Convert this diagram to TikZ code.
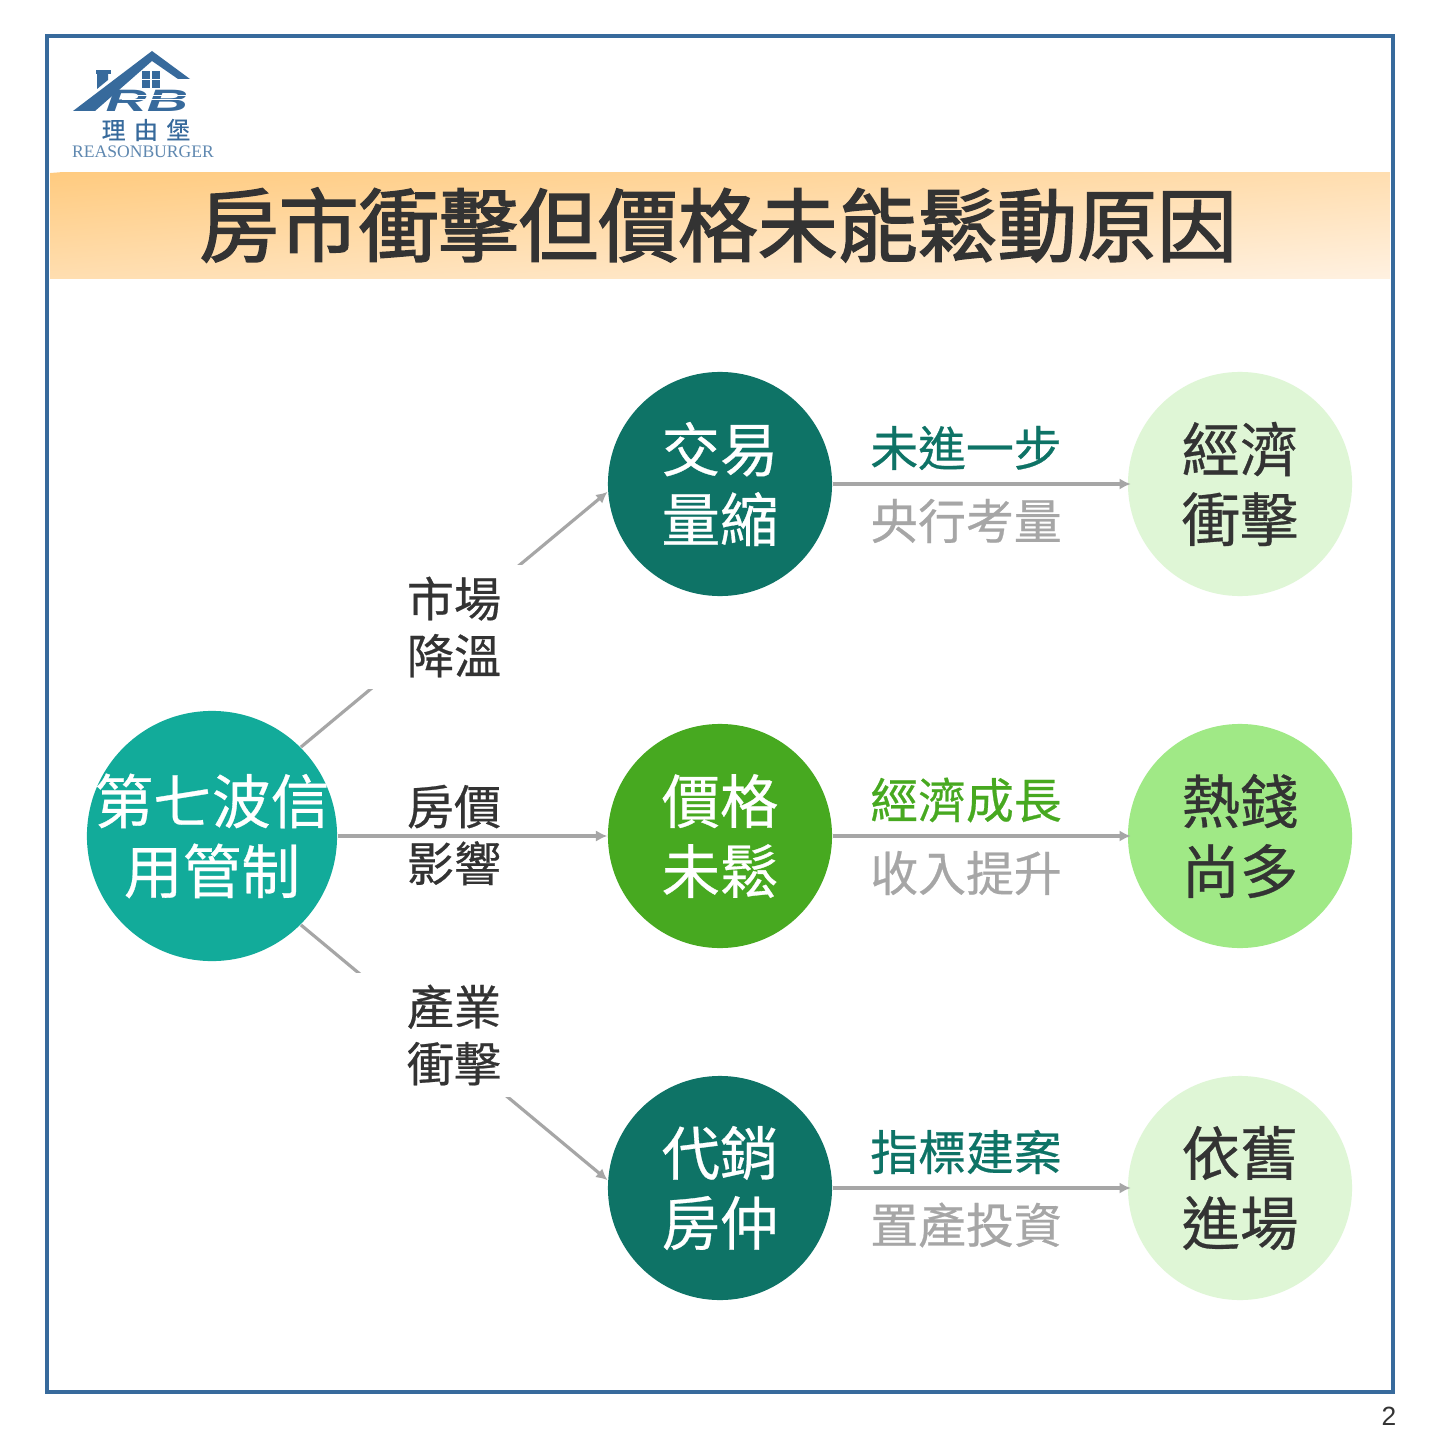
\documentclass[tikz,border=0pt]{standalone}
\usepackage{fontspec}
\usetikzlibrary{arrows.meta}
\setmainfont[FakeBold=0.5]{Noto Sans CJK TC}
\newfontfamily\titlefont[FakeBold=2]{Noto Sans CJK TC}
\newfontfamily\logofont{Liberation Serif}
\newfontfamily\rbfont{Liberation Sans}
\definecolor{framecol}{HTML}{376A9C}
\definecolor{darkteal}{HTML}{0E7366}
\definecolor{brightteal}{HTML}{12AB9A}
\definecolor{leafgreen}{HTML}{47A920}
\definecolor{palegreen}{HTML}{DFF6D6}
\definecolor{softgreen}{HTML}{A0E986}
\definecolor{linegray}{HTML}{A6A6A6}
\definecolor{inkcol}{HTML}{333333}
\definecolor{bandtop}{HTML}{FFCB80}
\definecolor{bandlow}{HTML}{FFF1E1}
\tikzset{
	ball/.style={circle,minimum size=2.24cm,inner sep=0pt,align=center,font=\fontsize{16.6}{19.9}\selectfont},
	flow/.style={-{Latex[length=3.2pt,width=3.2pt]},linegray,line width=0.9pt},
	flowend/.style={flow,shorten >=-1pt},
	midtext/.style={font=\fontsize{13.6}{16}\selectfont,inner sep=0pt},
	sidetext/.style={fill=white,minimum width=2cm,minimum height=1.24cm,inner sep=0pt,align=center,text=inkcol,font=\fontsize{13.4}{16.2}\selectfont},
}
\begin{document}
\begin{tikzpicture}[x=0.01cm,y=-0.01cm]
	\useasboundingbox (0,0) rectangle (1440,1440);
	\fill[white] (0,0) rectangle (1440,1440);

	\begin{scope}
		\clip (50,173) rectangle (1390,279);
		\begin{scope}[transform canvas={yslant=0.0791}]
			\shade[top color=bandtop,bottom color=bandlow] (50,177) rectangle (1390,389); %slanted colour bands
		\end{scope}
	\end{scope}
	\draw[framecol,line width=1.1pt] (47,36) rectangle (1393,1392);
	\node[font=\fontsize{22.7}{26}\selectfont\titlefont,text=inkcol,inner sep=0pt] (title) at (718,225) {房市衝擊但價格未能鬆動原因};
	\node[inner sep=0pt,font=\fontsize{7.5}{9}\selectfont,text=inkcol] (pagenum) at (1389,1416) {\rbfont 2};

	% logo
	\fill[framecol] (73,111) -- (152,51) -- (190,79) -- (178,79) -- (152,61) -- (95,111) -- cycle;
	\fill[framecol] (96,70) rectangle (111,74);
	\fill[framecol] (97,74) -- (108,74) -- (108,80) -- (97,89) -- cycle;
	\foreach \wx in {142,152} \foreach \wy in {71,80} \fill[framecol] (\wx,\wy) rectangle +(8,8);
	\node[inner sep=0pt,text=framecol,xscale=1.85,font=\fontsize{8.8}{10}\selectfont\bfseries\itshape] (logorb) at (147,101) {\rbfont RB};
	\draw[white,line width=0.25pt] (124,95) -- (186,95);
	\draw[white,line width=0.25pt] (122,99) -- (186,99);
	\node[inner sep=0pt,text=framecol,font=\fontsize{6.8}{9}\selectfont] (logocn) at (146,130) {理\hspace{2.4pt}由\hspace{2.4pt}堡};
	\node[inner sep=0pt,text=framecol!80,font=\fontsize{5}{6}\selectfont] (logoen) at (143,152) {\logofont REASONBURGER};

	% circles
	\node[ball,minimum size=2.5cm,fill=brightteal,label={[text=white,align=center,font=\fontsize{16.7}{19.9}\selectfont]center:第七波信\\用管制}] (source) at (212,836) {};
	\node[ball,fill=darkteal,text=white] (tradea) at (720,484) {交易\\量縮};
	\node[ball,fill=leafgreen,text=white] (priceb) at (720,836) {價格\\未鬆};
	\node[ball,fill=darkteal,text=white] (agentc) at (720,1188) {代銷\\房仲};
	\node[ball,fill=palegreen,text=inkcol] (endsa) at (1240,484) {經濟\\衝擊};
	\node[ball,fill=softgreen,text=inkcol] (endsb) at (1240,836) {熱錢\\尚多};
	\node[ball,fill=palegreen,text=inkcol] (endsc) at (1240,1188) {依舊\\進場};

	\draw[flow] (source.45) -- (tradea.184);
	\draw[flow] (source.east) -- (priceb.west);
	\draw[flow] (source.-45) -- (agentc.176);
	\draw[flowend] (tradea.east) -- (endsa.west);
	\draw[flowend] (priceb.east) -- (endsb.west);
	\draw[flowend] (agentc.east) -- (endsc.west);

	% labels on the lines
	\node[sidetext] (causea) at (454,627) {市場\\降溫};
	\node[text=inkcol,align=center,inner sep=0pt,font=\fontsize{13.4}{16.2}\selectfont] (causeb) at (454,835) {房價\\影響};
	\node[sidetext] (causec) at (454,1035) {產業\\衝擊};

	\node[midtext,text=darkteal] (upa) at (966,448) {未進一步};
	\node[midtext,text=linegray] (lowa) at (966,521) {央行考量};
	\node[midtext,text=leafgreen] (upb) at (966,800) {經濟成長};
	\node[midtext,text=linegray] (lowb) at (966,873) {收入提升};
	\node[midtext,text=darkteal] (upc) at (966,1152) {指標建案};
	\node[midtext,text=linegray] (lowc) at (966,1225) {置產投資};
\end{tikzpicture}
\end{document}
